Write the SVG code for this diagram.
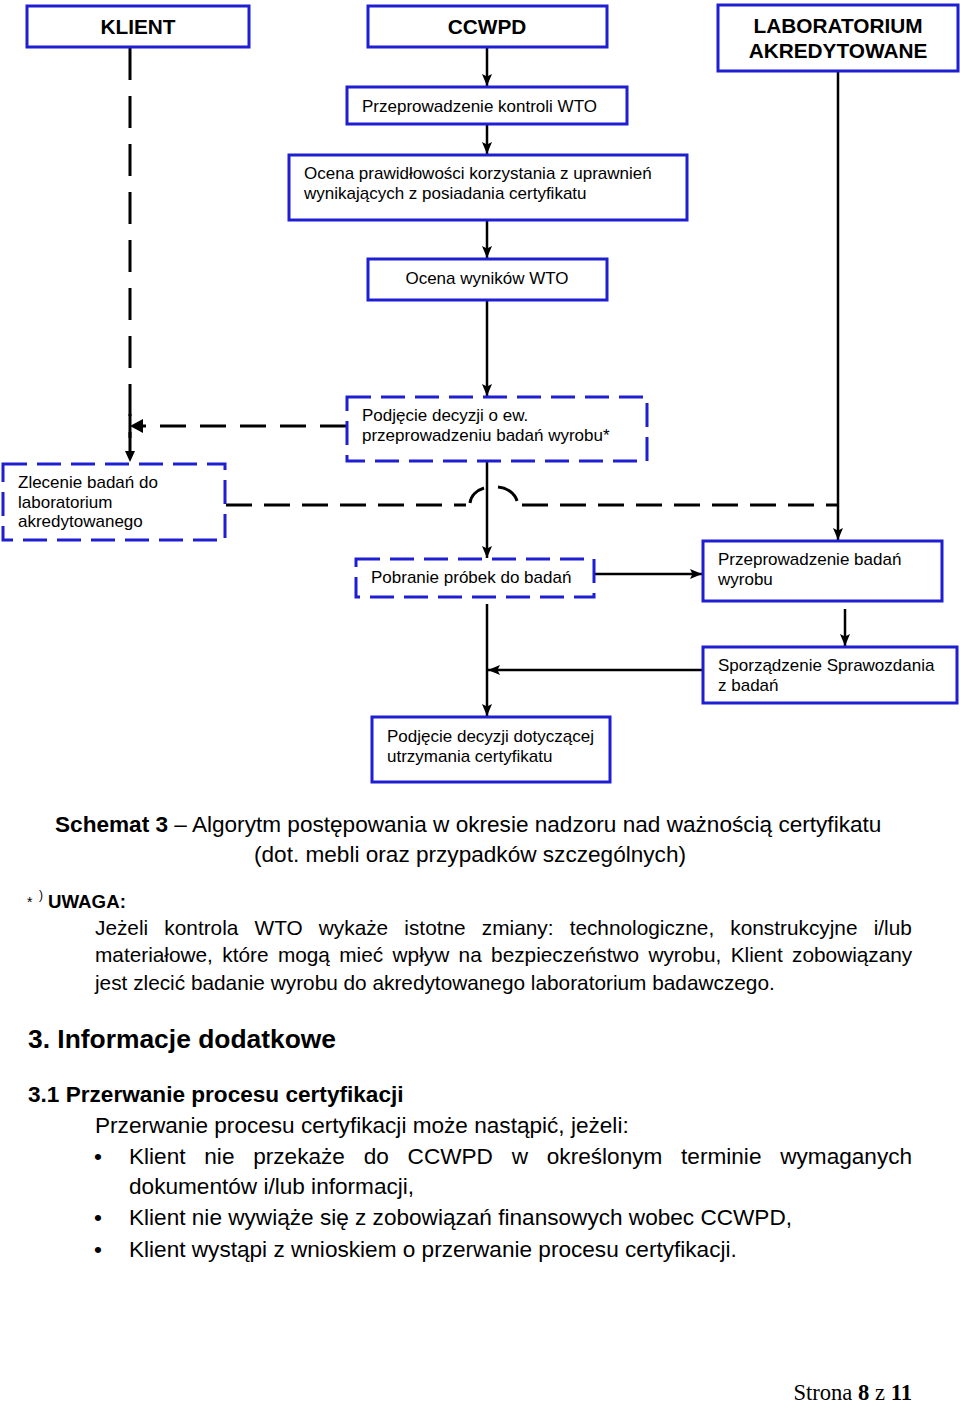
<svg xmlns="http://www.w3.org/2000/svg" width="960" height="1406" viewBox="0 0 960 1406">
<defs>
<marker id="ah" viewBox="0 0 12 10" refX="12" refY="5" markerWidth="12" markerHeight="10" markerUnits="userSpaceOnUse" orient="auto">
<path d="M0,0 L12,5 L0,10 L2.5,5 Z" fill="#000"/>
</marker>
</defs>
<style>
.box{fill:#fff;stroke:#1e1ed2;stroke-width:3}
.dbox{fill:#fff;stroke:#1e1ed2;stroke-width:3;stroke-dasharray:24 10}
.t{font-family:"Liberation Sans",Arial,sans-serif;font-size:17px;fill:#000}
.h{font-family:"Liberation Sans",Arial,sans-serif;font-size:20.8px;font-weight:bold;fill:#000}
.c{fill:none;stroke:#000;stroke-width:2.5}
.d{fill:none;stroke:#000;stroke-width:3;stroke-dasharray:26 14}
.p{font-family:"Liberation Sans",Arial,sans-serif;font-size:22.6px;fill:#000}
.n{font-family:"Liberation Sans",Arial,sans-serif;font-size:20.8px;fill:#000}
</style>
<rect width="960" height="1406" fill="#fff"/>
<g id="connectors">
<path class="d" d="M130,48 V452" style="stroke-dasharray:32 16"/>
<path d="M125,451 L130,462 L135,451 Z" fill="#000"/>
<line class="c" x1="487" y1="48" x2="487" y2="86" marker-end="url(#ah)"/>
<line class="c" x1="487" y1="125" x2="487" y2="154" marker-end="url(#ah)"/>
<line class="c" x1="487" y1="221" x2="487" y2="258" marker-end="url(#ah)"/>
<line class="c" x1="487" y1="301" x2="487" y2="396" marker-end="url(#ah)"/>
<path class="d" d="M346,426 H142"/>
<path d="M143,419 L130,426 L143,433 Z" fill="#000"/>
<line x1="130" y1="414" x2="130" y2="438" stroke="#000" stroke-width="3"/>
<path class="d" d="M226,505 H466" style="stroke-dasharray:26 12"/>
<path d="M470,503 A22 18 0 0 1 484,488" class="c" style="stroke-width:3"/>
<path d="M498,487 A22 18 0 0 1 517,501" class="c" style="stroke-width:3"/>
<path class="d" d="M522,505 H838" style="stroke-dasharray:26 12"/>
<line class="c" x1="838" y1="72" x2="838" y2="540" marker-end="url(#ah)"/>
<line class="c" x1="487" y1="462" x2="487" y2="558" marker-end="url(#ah)"/>
<line class="c" x1="595" y1="574" x2="702" y2="574" marker-end="url(#ah)"/>
<line class="c" x1="845" y1="609" x2="845" y2="646" marker-end="url(#ah)"/>
<line class="c" x1="703" y1="670" x2="488" y2="670" marker-end="url(#ah)"/>
<line class="c" x1="487" y1="604" x2="487" y2="716" marker-end="url(#ah)"/>
</g>
<g id="klient">
<rect class="box" x="27" y="6" width="222" height="41"/>
<text class="h" x="138" y="34" text-anchor="middle">KLIENT</text>
</g>
<g id="ccwpd">
<rect class="box" x="368" y="6" width="239" height="41"/>
<text class="h" x="487" y="34" text-anchor="middle">CCWPD</text>
</g>
<g id="lab">
<rect class="box" x="718" y="5" width="240" height="66"/>
<text class="h" x="838" y="33" text-anchor="middle">LABORATORIUM</text>
<text class="h" x="838" y="58" text-anchor="middle">AKREDYTOWANE</text>
</g>
<g id="kontrola">
<rect class="box" x="347" y="87" width="280" height="37"/>
<text class="t" x="362" y="112">Przeprowadzenie kontroli WTO</text>
</g>
<g id="ocena-prawidlowosci">
<rect class="box" x="289" y="155" width="398" height="65"/>
<text class="t" x="304" y="179">Ocena prawidłowości korzystania z uprawnień</text>
<text class="t" x="304" y="199">wynikających z posiadania certyfikatu</text>
</g>
<g id="ocena-wynikow">
<rect class="box" x="368" y="259" width="239" height="41"/>
<text class="t" x="487" y="284" text-anchor="middle">Ocena wyników WTO</text>
</g>
<g id="decyzja-badan">
<rect class="dbox" x="347" y="397" width="300" height="64"/>
<text class="t" x="362" y="421">Podjęcie decyzji o ew.</text>
<text class="t" x="362" y="441">przeprowadzeniu badań wyrobu*</text>
</g>
<g id="zlecenie">
<rect class="dbox" x="3" y="464" width="222" height="76"/>
<text class="t" x="18" y="488">Zlecenie badań do</text>
<text class="t" x="18" y="508">laboratorium</text>
<text class="t" x="18" y="527">akredytowanego</text>
</g>
<g id="pobranie">
<rect class="dbox" x="356" y="559" width="238" height="38"/>
<text class="t" x="371" y="583">Pobranie próbek do badań</text>
</g>
<g id="badania">
<rect class="box" x="703" y="541" width="239" height="60"/>
<text class="t" x="718" y="565">Przeprowadzenie badań</text>
<text class="t" x="718" y="585">wyrobu</text>
</g>
<g id="sprawozdanie">
<rect class="box" x="703" y="647" width="254" height="56"/>
<text class="t" x="718" y="671">Sporządzenie Sprawozdania</text>
<text class="t" x="718" y="691">z badań</text>
</g>
<g id="decyzja-certyfikat">
<rect class="box" x="372" y="717" width="238" height="65"/>
<text class="t" x="387" y="742">Podjęcie decyzji dotyczącej</text>
<text class="t" x="387" y="762">utrzymania certyfikatu</text>
</g>
<g id="caption">
<text class="p" x="55" y="832"><tspan font-weight="bold">Schemat 3</tspan> – Algorytm postępowania w okresie nadzoru nad ważnością certyfikatu</text>
<text class="p" x="470" y="862" text-anchor="middle">(dot. mebli oraz przypadków szczególnych)</text>
</g>
<g id="uwaga">
<text class="n" x="27" y="907" style="font-size:14px">*</text>
<text class="n" x="39" y="899" style="font-size:12px">)</text>
<text class="n" x="48" y="908" font-weight="bold" style="font-size:18.7px">UWAGA:</text>
<text class="n" x="95" y="935" word-spacing="10.4">Jeżeli kontrola WTO wykaże istotne zmiany: technologiczne, konstrukcyjne i/lub</text>
<text class="n" x="95" y="962" word-spacing="3.6">materiałowe, które mogą mieć wpływ na bezpieczeństwo wyrobu, Klient zobowiązany</text>
<text class="n" x="95" y="990">jest zlecić badanie wyrobu do akredytowanego laboratorium badawczego.</text>
</g>
<g id="info">
<text class="p" x="28" y="1048" font-weight="bold" style="font-size:26.4px">3. Informacje dodatkowe</text>
<text class="p" x="28" y="1102" font-weight="bold">3.1 Przerwanie procesu certyfikacji</text>
<text class="p" x="95" y="1133">Przerwanie procesu certyfikacji może nastąpić, jeżeli:</text>
<text class="p" x="94" y="1164">•</text>
<text class="p" x="129" y="1164" word-spacing="12.5">Klient nie przekaże do CCWPD w określonym terminie wymaganych</text>
<text class="p" x="129" y="1194">dokumentów i/lub informacji,</text>
<text class="p" x="94" y="1225">•</text>
<text class="p" x="129" y="1225">Klient nie wywiąże się z zobowiązań finansowych wobec CCWPD,</text>
<text class="p" x="94" y="1257">•</text>
<text class="p" x="129" y="1257">Klient wystąpi z wnioskiem o przerwanie procesu certyfikacji.</text>
</g>
<g id="footer">
<text x="912" y="1400" text-anchor="end" style="font-family:'Liberation Serif','Times New Roman',serif;font-size:22.6px">Strona <tspan font-weight="bold">8</tspan> z <tspan font-weight="bold">11</tspan></text>
</g>
</svg>
